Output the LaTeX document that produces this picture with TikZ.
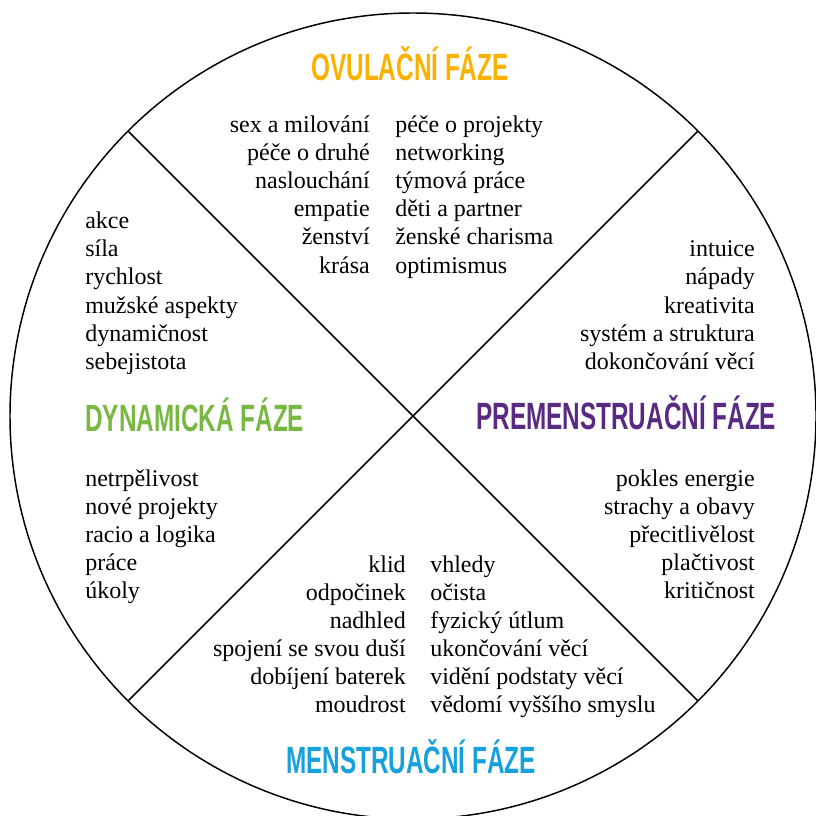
\documentclass[tikz,border=0pt]{standalone}
\usepackage{fontspec}
\setmainfont{Liberation Serif}
\newfontfamily\headfont{Liberation Sans}[FakeStretch=0.64]
\usepackage{tikz}

\definecolor{ovulace}{RGB}{250,177,0}
\definecolor{dynamika}{RGB}{120,184,66}
\definecolor{premenstr}{RGB}{88,42,131}
\definecolor{menstr}{RGB}{22,160,220}

\tikzset{
  phase/.style={inner sep=0pt, font=\headfont\bfseries\fontsize{28.5}{28.5}\selectfont},
  item/.style={inner sep=0pt, font=\fontsize{18}{21}\selectfont},
}

\begin{document}
\begin{tikzpicture}[x=0.75pt,y=-0.75pt]
    \useasboundingbox (0,0) rectangle (815,816);

    % Draw the circle and the two diagonals
    \coordinate (c) at (413,416);
    \coordinate (ul) at (128,131);
    \coordinate (ur) at (698,131);
    \coordinate (ll) at (128,701);
    \coordinate (lr) at (698,701);
    \draw[line width=1.1pt] (c) circle (403);
    \draw[line width=1.1pt] (ul) -- (lr);
    \draw[line width=1.1pt] (ur) -- (ll);

    % Draw the phase names
    \node[phase, text=ovulace, anchor=base] (ovulacni) at (410,81) {OVULAČNÍ FÁZE};
    \node[phase, text=dynamika, anchor=base west] (dynamicka) at (85,431) {DYNAMICKÁ FÁZE};
    \node[phase, text=premenstr, anchor=base west] (premenstruacni) at (476,429) {PREMENSTRUAČNÍ FÁZE};
    \node[phase, text=menstr, anchor=base] (menstruacni) at (411,773) {MENSTRUAČNÍ FÁZE};

    % Draw the lists of each quarter
    \foreach \t [count=\i] in {sex a milování, péče o druhé, naslouchání, empatie, ženství, krása}
        \node[item, anchor=base east] (ovl\i) at (370,{133+28*(\i-1)}) {\t};
    \foreach \t [count=\i] in {péče o projekty, networking, týmová práce, děti a partner, ženské charisma, optimismus}
        \node[item, anchor=base west] (ovr\i) at (395,{133+28*(\i-1)}) {\t};
    \foreach \t [count=\i] in {akce, síla, rychlost, mužské aspekty, dynamičnost, sebejistota}
        \node[item, anchor=base west] (dyt\i) at (85,{229+28*(\i-1)}) {\t};
    \foreach \t [count=\i] in {netrpělivost, nové projekty, racio a logika, práce, úkoly}
        \node[item, anchor=base west] (dyb\i) at (85,{486+28*(\i-1)}) {\t};
    \foreach \t [count=\i] in {intuice, nápady, kreativita, systém a struktura, dokončování věcí}
        \node[item, anchor=base east] (prt\i) at (755,{257+28*(\i-1)}) {\t};
    \foreach \t [count=\i] in {pokles energie, strachy a obavy, přecitlivělost, plačtivost, kritičnost}
        \node[item, anchor=base east] (prb\i) at (755,{486+28*(\i-1)}) {\t};
    \foreach \t [count=\i] in {klid, odpočinek, nadhled, spojení se svou duší, dobíjení baterek, moudrost}
        \node[item, anchor=base east] (mel\i) at (406,{572+28*(\i-1)}) {\t};
    \foreach \t [count=\i] in {vhledy, očista, fyzický útlum, ukončování věcí, vidění podstaty věcí, vědomí vyššího smyslu}
        \node[item, anchor=base west] (mer\i) at (430,{572+28*(\i-1)}) {\t};
\end{tikzpicture}
\end{document}
